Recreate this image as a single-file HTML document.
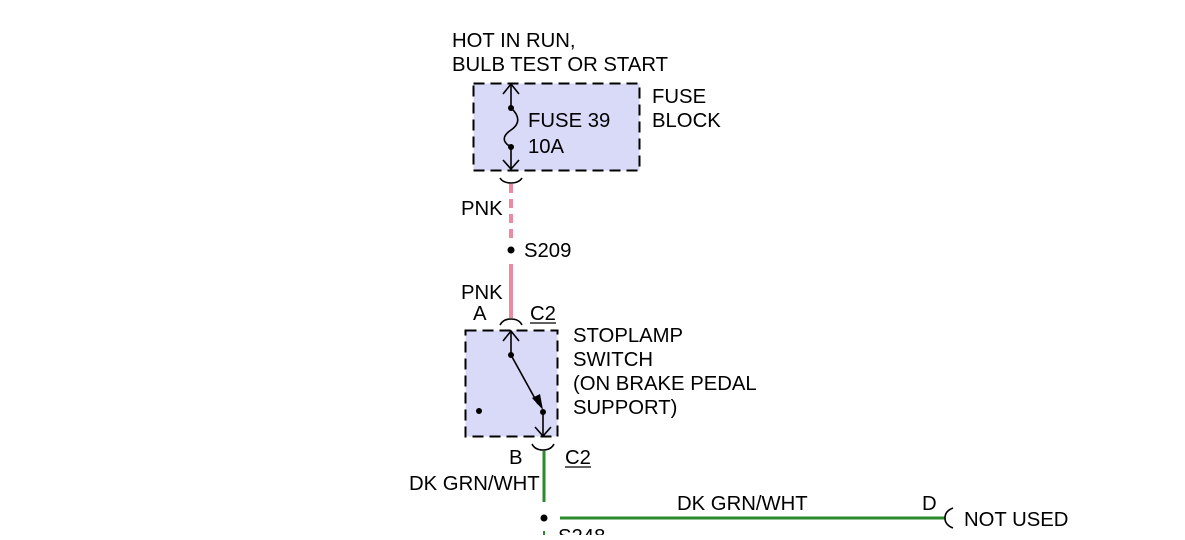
<!DOCTYPE html>
<html><head><style>
html,body{margin:0;padding:0;background:#fff;}
svg text{font-family:"Liberation Sans",Arial,sans-serif;font-size:20.3px;fill:#000;}
</style></head><body>
<svg width="1185" height="535" viewBox="0 0 1185 535" xmlns="http://www.w3.org/2000/svg">
<rect x="0" y="0" width="1185" height="535" fill="#fff"/>
<text x="452" y="47">HOT IN RUN,</text>
<text x="452" y="71">BULB TEST OR START</text>
<rect x="473.5" y="83.5" width="166" height="87" fill="#d9d9f8" stroke="#000" stroke-width="2" stroke-dasharray="11,6"/>
<text x="652" y="103">FUSE</text>
<text x="652" y="127">BLOCK</text>
<text x="528" y="127">FUSE 39</text>
<text x="528" y="153">10A</text>
<g stroke="#000" stroke-width="1.6" fill="none">
<line x1="511" y1="84" x2="511" y2="108"/>
<polyline points="503,94 511,84 519,94"/>
<path d="M511,108 C520,116 520,124 511,130 C502,136 502,142 511,147"/>
<line x1="511" y1="147" x2="511" y2="169"/>
<polyline points="503,160 511,169 519,160"/>
<path d="M500,178 Q503,183 511,183 Q519,183 522,178"/>
</g>
<circle cx="511" cy="108" r="3" fill="#000"/>
<circle cx="511" cy="147" r="3" fill="#000"/>
<line x1="511" y1="184" x2="511" y2="243" stroke="#ec8aa6" stroke-width="4" stroke-dasharray="9,6"/>
<text x="461" y="215">PNK</text>
<circle cx="511" cy="250" r="3.5" fill="#000"/>
<text x="524" y="257">S209</text>
<line x1="511" y1="264" x2="511" y2="318" stroke="#ec8aa6" stroke-width="4"/>
<text x="461" y="299">PNK</text>
<text x="473" y="320">A</text>
<text x="530" y="320">C2</text>
<line x1="530" y1="323" x2="556" y2="323" stroke="#000" stroke-width="1.2"/>
<path d="M500,325 Q503,319 511,319 Q519,319 522,325" stroke="#000" stroke-width="1.6" fill="none"/>
<rect x="465.5" y="330.5" width="92" height="106" fill="#d9d9f8" stroke="#000" stroke-width="2" stroke-dasharray="11,6"/>
<text x="573" y="342">STOPLAMP</text>
<text x="573" y="366">SWITCH</text>
<text x="573" y="390">(ON BRAKE PEDAL</text>
<text x="573" y="414">SUPPORT)</text>
<g stroke="#000" stroke-width="1.6" fill="none">
<line x1="511" y1="331" x2="511" y2="355"/>
<polyline points="503,341 511,331 519,341"/>
<line x1="511" y1="355" x2="538" y2="404"/>
<line x1="543" y1="412" x2="543" y2="436"/>
<polyline points="535,427 543,436 551,427"/>
<path d="M532,444 Q535,450 543,450 Q551,450 554,444"/>
</g>
<polygon points="543,410 532,398 540,394" fill="#000"/>
<circle cx="511" cy="355" r="3" fill="#000"/>
<circle cx="543" cy="412" r="3" fill="#000"/>
<circle cx="479" cy="411" r="3" fill="#000"/>
<text x="509" y="464">B</text>
<text x="565" y="464">C2</text>
<line x1="565" y1="467" x2="591" y2="467" stroke="#000" stroke-width="1.2"/>
<line x1="544" y1="451" x2="544" y2="502" stroke="#2b8a2b" stroke-width="3"/>
<text x="409" y="490">DK GRN/WHT</text>
<circle cx="544" cy="518" r="3.5" fill="#000"/>
<line x1="560" y1="518" x2="945" y2="518" stroke="#2b8a2b" stroke-width="3"/>
<text x="677" y="510">DK GRN/WHT</text>
<text x="922" y="510">D</text>
<path d="M953,508 Q945,511 945,518 Q945,525 953,528" stroke="#000" stroke-width="1.6" fill="none"/>
<text x="964" y="526">NOT USED</text>
<text x="558" y="543">S248</text>
<line x1="544" y1="531" x2="544" y2="535" stroke="#2b8a2b" stroke-width="2"/>
</svg>
</body></html>
